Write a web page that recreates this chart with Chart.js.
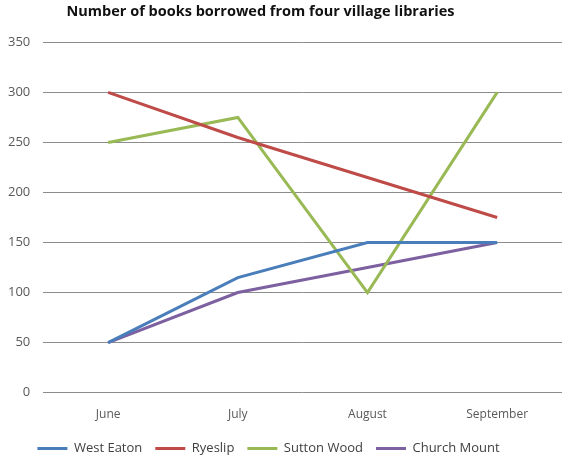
<!DOCTYPE html>
<html>
<head>
<meta charset="utf-8">
<script src="https://cdn.jsdelivr.net/npm/chart.js@4"></script>
<style>
  html, body { margin: 0; padding: 0; background: #fff; }
  #wrap { width: 564px; height: 455px; }
</style>
</head>
<body>
<div id="wrap"><canvas id="booksChart"></canvas></div>
<script>
// months and books borrowed per library
let months = ['June', 'July', 'August', 'September'];
let westEaton = [50, 115, 150, 150];
let ryeslip = [300, 255, 215, 175];
let suttonWood = [250, 275, 100, 300];
let churchMount = [50, 100, 125, 150];
let yTicks = [0, 50, 100, 150, 200, 250, 300, 350];

const fontFamily = "'Open Sans', 'Liberation Sans', sans-serif";

function makeSeries(label, data, colour) {
    return {
        label: label,
        data: data,
        borderColor: colour,
        backgroundColor: colour,
        borderWidth: 3,
        pointRadius: 0,
        pointHoverRadius: 0,
        tension: 0,
        pointStyle: 'line'
    };
}

// title and legend sit a little left of the plot centre
const shiftHeaderFooter = {
    id: 'shiftHeaderFooter',
    afterLayout(chart) {
        if (chart.titleBlock) {
            chart.titleBlock.left -= 36;
        }
        if (chart.legend) {
            chart.legend.left -= 20;
        }
    }
};

let ctx = document.getElementById('booksChart').getContext('2d');
let booksChart = new Chart(ctx, {
    type: 'line',
    data: {
        labels: months,
        datasets: [
            makeSeries('West Eaton', westEaton, '#4a7ebb'),
            makeSeries('Ryeslip', ryeslip, '#be4b48'),
            makeSeries('Sutton Wood', suttonWood, '#98b954'),
            makeSeries('Church Mount', churchMount, '#7d60a0')
        ]
    },
    plugins: [shiftHeaderFooter],
    options: {
        responsive: true,
        maintainAspectRatio: false,
        animation: false,
        layout: {
            padding: { top: 3, right: 2, bottom: -10, left: -5 }
        },
        plugins: {
            title: {
                display: true,
                text: 'Number of books borrowed from four village libraries',
                color: '#111',
                font: { family: fontFamily, size: 14.5, weight: 'bold' },
                padding: { top: 0, bottom: 22 }
            },
            legend: {
                position: 'bottom',
                labels: {
                    usePointStyle: true,
                    pointStyle: 'line',
                    pointStyleWidth: 30,
                    boxWidth: 30,
                    boxHeight: 3,
                    color: '#404040',
                    padding: 13,
                    font: { family: fontFamily, size: 13 }
                }
            },
            tooltip: { enabled: false }
        },
        scales: {
            x: {
                offset: true,
                grid: { display: false },
                border: { display: false },
                ticks: {
                    color: '#595959',
                    padding: 7,
                    font: { family: fontFamily, size: 12 }
                }
            },
            y: {
                min: 0,
                max: 350,
                afterBuildTicks: function (axis) {
                    axis.ticks = yTicks.map(v => ({ value: v }));
                },
                grid: {
                    color: '#8c8c8c',
                    lineWidth: 1,
                    drawTicks: false
                },
                border: { display: false },
                ticks: {
                    color: '#595959',
                    padding: 13,
                    font: { family: fontFamily, size: 13 }
                }
            }
        }
    }
});
</script>
</body>
</html>
